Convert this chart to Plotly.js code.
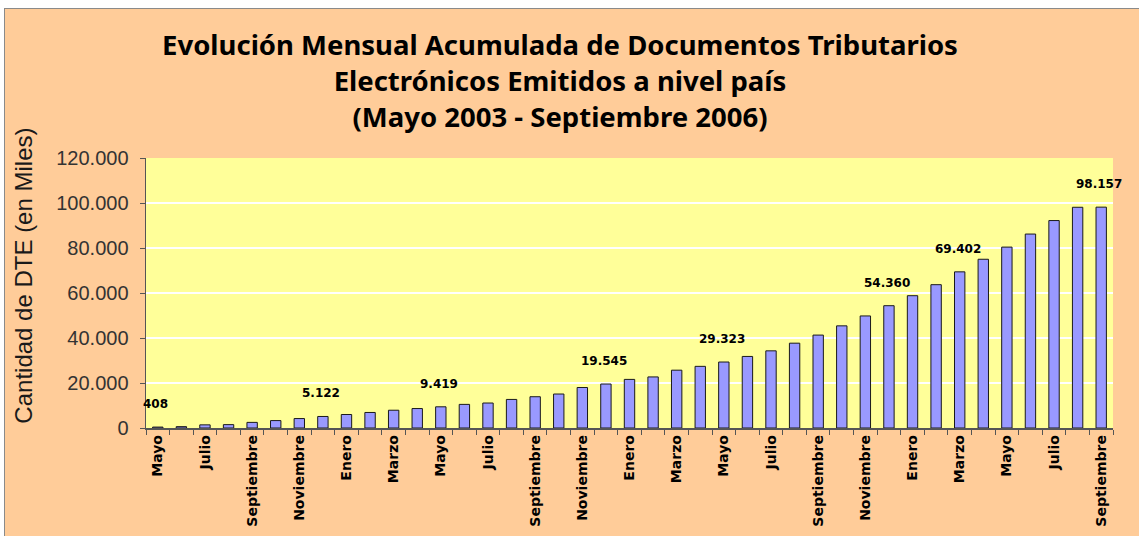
<!DOCTYPE html>
<html>
<head>
<meta charset="utf-8">
<script src="https://cdn.plot.ly/plotly-3.0.1.min.js"></script>
<style>
  html, body { margin: 0; padding: 0; background: #ffffff; }
  #chart { position: absolute; left: 4px; top: 8px; width: 1135px; height: 528px;
           border-left: 1px solid #8a8a8a; border-top: 1px solid #8a8a8a; }
</style>
</head>
<body>
<div id="chart"></div>
<script>
// Categories (one per month, May 2003 - Sep 2006)
const months = [
  "May-03","Jun-03","Jul-03","Ago-03","Sep-03","Oct-03","Nov-03","Dic-03",
  "Ene-04","Feb-04","Mar-04","Abr-04","May-04","Jun-04","Jul-04","Ago-04","Sep-04","Oct-04","Nov-04","Dic-04",
  "Ene-05","Feb-05","Mar-05","Abr-05","May-05","Jun-05","Jul-05","Ago-05","Sep-05","Oct-05","Nov-05","Dic-05",
  "Ene-06","Feb-06","Mar-06","Abr-06","May-06","Jun-06","Jul-06","Ago-06","Sep-06"
];
// Cumulative DTE issued (thousands)
const values = [
  408, 600, 1400, 1500, 2500, 3300, 4200, 5122,
  6000, 6900, 7900, 8650, 9419, 10500, 11100, 12700, 13900, 15100, 18000, 19545,
  21600, 22700, 25700, 27400, 29323, 31800, 34300, 37700, 41300, 45400, 49800, 54360,
  58800, 63700, 69402, 75000, 80400, 86200, 92200, 98100, 98157
];
// Tick labels (shown on every other month)
const tickMonths = months.filter((m, i) => i % 2 === 0);
const tickLabels = [
  "Mayo","Julio","Septiembre","Noviembre","Enero","Marzo","Mayo","Julio","Septiembre","Noviembre",
  "Enero","Marzo","Mayo","Julio","Septiembre","Noviembre","Enero","Marzo","Mayo","Julio","Septiembre"
];
// Months carrying a value label
const labeledMonths = ["May-03","Dic-03","May-04","Dic-04","May-05","Dic-05","Mar-06","Sep-06"];
const yTicks = [0, 20000, 40000, 60000, 80000, 100000, 120000];

function fmt(v) { return String(v).replace(/\B(?=(\d{3})+(?!\d))/g, "."); }

const ticktext = months.map(m => {
  const k = tickMonths.indexOf(m);
  return k >= 0 ? tickLabels[k] : "";
});

const trace = {
  type: "bar",
  x: months,
  y: values,
  marker: { color: "#9999FF", line: { color: "#1a1a1a", width: 1 } },
  hoverinfo: "x+y"
};

const annotations = labeledMonths.map(m => ({
  x: m, y: values[months.indexOf(m)], xref: "x", yref: "y",
  text: fmt(values[months.indexOf(m)]), showarrow: false,
  yshift: 23, xshift: -2, yanchor: "middle",
  font: { family: "DejaVu Sans", size: 12, color: "#000000", weight: "bold" }
}));
annotations.push({
  xref: "paper", yref: "paper", x: -0.127, y: 0.565, showarrow: false,
  text: "Cantidad de DTE (en Miles)", textangle: -90,
  xanchor: "center", yanchor: "middle",
  font: { family: "Liberation Sans", size: 24, color: "#1a1a1a" }
});

const layout = {
  width: 1135, height: 528,
  paper_bgcolor: "#FFCC99",
  plot_bgcolor: "#FFFF99",
  separators: ",.",
  margin: { l: 141, r: 27, t: 148.5, b: 108.5 },
  showlegend: false,
  bargap: 0.56,
  title: {
    text: "Evolución Mensual Acumulada de Documentos Tributarios<br>Electrónicos Emitidos a nivel país<br>(Mayo 2003 - Septiembre 2006)",
    font: { family: "Noto Sans", size: 27.5, color: "#000000", weight: "bold" },
    xref: "container", yref: "container",
    x: 0.489, xanchor: "center", y: 0.912, yanchor: "top"
  },
  xaxis: {
    type: "category",
    range: [-0.5, months.length - 0.5],
    tickmode: "array", tickvals: months, ticktext: ticktext,
    tickson: "boundaries",
    ticks: "outside", ticklen: 5, tickcolor: "#555555",
    tickangle: -90,
    tickfont: { family: "DejaVu Sans", size: 14, color: "#000000", weight: "bold" },
    showline: true, linecolor: "#555555", linewidth: 1.5,
    showgrid: false, zeroline: false
  },
  yaxis: {
    range: [0, 120000],
    tickvals: yTicks, ticktext: yTicks.map(fmt),
    ticks: "outside", ticklen: 5, tickcolor: "#555555",
    ticklabelstandoff: 7,
    tickfont: { family: "Liberation Sans", size: 20, color: "#333333" },
    showline: true, linecolor: "#555555", linewidth: 1.5,
    showgrid: true, gridcolor: "#FFFFFF", gridwidth: 2,
    zeroline: false
  },
  annotations: annotations
};

Plotly.newPlot("chart", [trace], layout, { displayModeBar: false, staticPlot: true });
</script>
</body>
</html>
